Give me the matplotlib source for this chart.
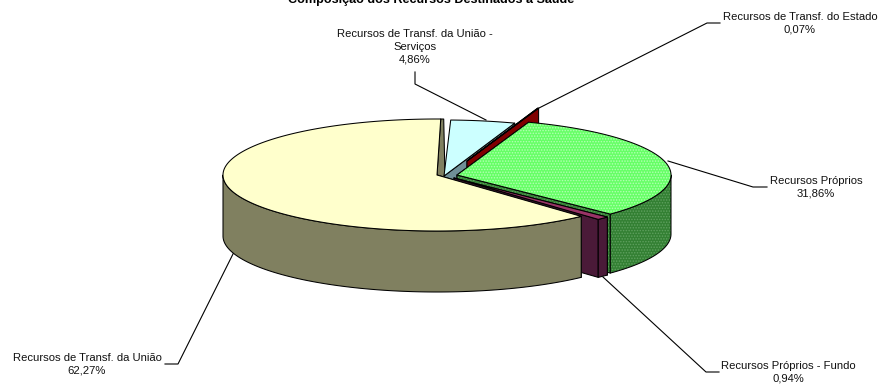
import matplotlib
matplotlib.use("Agg")
import matplotlib.pyplot as plt
import numpy as np

title = "Composição dos Recursos Destinados à Saúde"
labels = ["Recursos de Transf. da União -\nServiços", "Recursos de Transf. do Estado",
          "Recursos Próprios", "Recursos Próprios - Fundo", "Recursos de Transf. da União"]
shares = [4.86, 0.07, 31.86, 0.94, 62.27]
share_text = ["4,86%", "0,07%", "31,86%", "0,94%", "62,27%"]

plt.rcParams['font.family'] = ['Liberation Sans', 'DejaVu Sans']
plt.rcParams['hatch.linewidth'] = 0.7

# pie geometry, in pixels of the picture
A, B = 214, 56
START = 1.8
depths = [60, 60, 59, 58, 61]
centers = [(444, 176), (467, 161), (457, 175), (454, 178), (437, 175)]
top_col = ['#CCFFFF', '#800000', '#66FF66', '#993366', '#FFFFCC']
side_col = ['#6F8F96', '#800000', '#338033', '#4A1A38', '#808060']

fig = plt.figure(figsize=(8.82, 3.85), dpi=100)
ax = fig.add_axes([0, 0, 1, 1])
ax.set_xlim(0, 882)
ax.set_ylim(385, 0)
ax.axis('off')


def rim(c, t1, t2):
    t = np.radians(np.linspace(t1, t2, max(int(abs(t2 - t1)) * 2, 2)))
    return c[0] + A * np.sin(t), c[1] - B * np.cos(t)


def draw_poly(x, y, col, z, hatch=None, hatch_col=None):
    if hatch:
        ax.fill(x, y, facecolor=col, edgecolor=hatch_col, hatch=hatch, lw=0, zorder=z)
    else:
        ax.fill(x, y, facecolor=col, edgecolor='none', zorder=z)
    ax.fill(x, y, facecolor='none', edgecolor='black', lw=0.75, zorder=z, joinstyle='round')


# slice limits, clockwise from the top
edges = START + np.cumsum([0] + shares) * 3.6

# the olive strip at the end of the big slice, behind the small slices
c = centers[4]
rx, ry = rim(c, edges[5] - 0.8, edges[5])
draw_poly(np.r_[c[0], rx, c[0] + 8], np.r_[c[1], ry, c[1] + 3], side_col[4], 0.8)

for i in range(len(shares)):
    c = centers[i]
    d = depths[i]
    t1, t2 = edges[i], edges[i + 1]
    z = i * 3 + 1
    hatch = '......' if i == 2 else None
    htop = '#B4FFB4' if i == 2 else None
    hside = '#5FA05F' if i == 2 else None
    # the two cut faces
    for t in (t1, t2):
        if i == 4 and t == t2:
            continue
        # the hidden cut face of the first slice would poke out behind the top
        if i == 0 and t == t1:
            continue
        rx, ry = rim(c, t, t + 0.01)
        x = [c[0], rx[0], rx[0], c[0]]
        y = [c[1], ry[0], ry[0] + d, c[1] + d]
        draw_poly(x, y, side_col[i], z, hatch, hside)
    # outer wall, only the front half shows
    lo, hi = max(t1, 90), min(t2, 270)
    if hi > lo:
        rx, ry = rim(c, lo, hi)
        x = np.r_[rx, rx[::-1]]
        y = np.r_[ry, ry[::-1] + d]
        draw_poly(x, y, side_col[i], z + 1, hatch, hside)
    # top
    end = t2 - 0.8 if i == 4 else t2
    rx, ry = rim(c, t1, end)
    draw_poly(np.r_[c[0], rx], np.r_[c[1], ry], top_col[i], z + 2, hatch, htop)

leaders = [
    [(415, 72), (415, 84), (486, 120)],
    [(720, 23), (707, 23), (539, 108)],
    [(767, 187), (753, 187), (668, 161)],
    [(719, 372), (706, 372), (603, 277)],
    [(165, 364), (178, 364), (235, 250)],
]
for pts in leaders:
    ax.plot([p[0] for p in pts], [p[1] for p in pts], color='black', lw=0.8, zorder=0.5)

label_pos = [(415, 47), (800, 23), (816, 187.5), (788, 372), (87, 364.5)]
for i in range(len(labels)):
    ax.text(label_pos[i][0], label_pos[i][1], labels[i] + "\n" + share_text[i],
            ha='center', va='center', fontsize=8.1, linespacing=1.33, color='#111111')

ax.text(431, 0, title, ha='center', va='center', fontsize=9.1, fontweight='bold')

fig.savefig("out.png", dpi=100)
